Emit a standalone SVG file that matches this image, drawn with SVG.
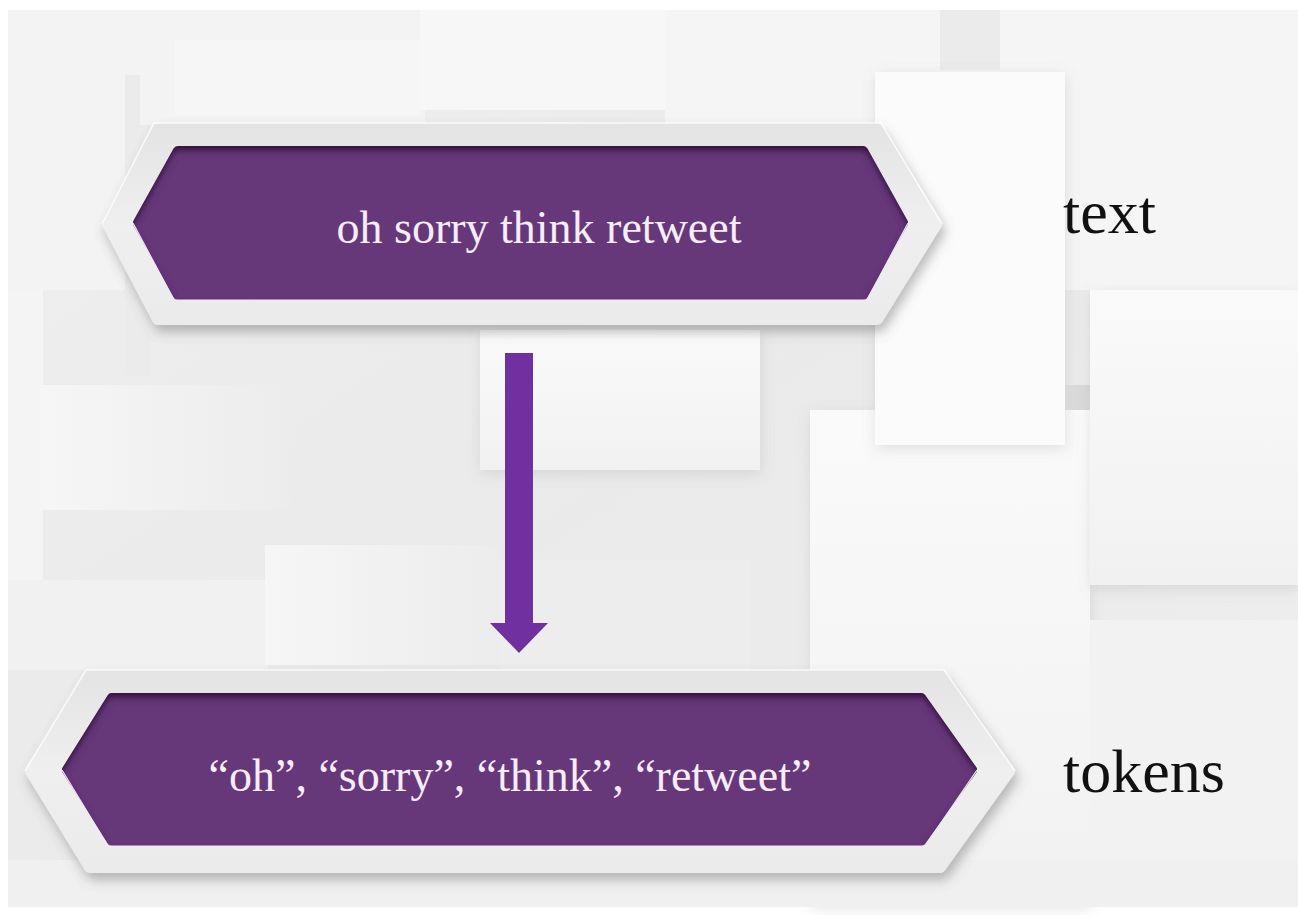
<svg xmlns="http://www.w3.org/2000/svg" width="1298" height="915" viewBox="0 0 1298 915">
  <style>
    .panel { filter: url(#panelShadow); }
    .frame { fill: url(#frameGrad); stroke: url(#frameGrad); stroke-width: 12; stroke-linejoin: round; filter: url(#frameShadow); }
    .frame-hi { fill: none; stroke: #ffffff; stroke-opacity: 0.8; stroke-width: 1.5; stroke-linejoin: round; }
    .plate { fill: #663879; stroke: #663879; stroke-width: 10; stroke-linejoin: round; filter: url(#insetShadow); }
    .plate-edge { fill: none; stroke: #f3e6f7; stroke-width: 1.2; stroke-linejoin: round; }
    .inner-text { font-family: "Liberation Serif", "Times New Roman", serif; font-size: 46px; fill: #f7ecf9; text-anchor: middle; }
    .side-label { font-family: "Liberation Serif", "Times New Roman", serif; font-size: 62px; fill: #111111; }
    .arrow { fill: #7030a0; }
  </style>
  <defs>
    <linearGradient id="bgGrad" x1="0" y1="0" x2="1" y2="1">
      <stop offset="0" stop-color="#efefef"/>
      <stop offset="0.5" stop-color="#eaeaea"/>
      <stop offset="1" stop-color="#eeeeee"/>
    </linearGradient>
    <linearGradient id="paperGrad" x1="0" y1="0" x2="0" y2="1">
      <stop offset="0" stop-color="#fafafa"/>
      <stop offset="1" stop-color="#f1f1f1"/>
    </linearGradient>
    <linearGradient id="paperSide" x1="0" y1="0" x2="1" y2="0">
      <stop offset="0" stop-color="#f6f6f6"/>
      <stop offset="1" stop-color="#ececec"/>
    </linearGradient>
    <linearGradient id="frameGrad" x1="0" y1="0" x2="0" y2="1">
      <stop offset="0" stop-color="#e4e4e4"/>
      <stop offset="0.5" stop-color="#efefef"/>
      <stop offset="1" stop-color="#ebebeb"/>
    </linearGradient>
    <filter id="panelShadow" x="-10%" y="-10%" width="130%" height="130%">
      <feDropShadow dx="1" dy="4" stdDeviation="7" flood-color="#8a8a8a" flood-opacity="0.22"/>
    </filter>
    <filter id="frameShadow" x="-5%" y="-20%" width="112%" height="150%">
      <feDropShadow dx="3" dy="7" stdDeviation="6" flood-color="#5a5a5a" flood-opacity="0.4"/>
    </filter>
    <filter id="insetShadow" x="-5%" y="-10%" width="110%" height="120%">
      <feOffset in="SourceAlpha" dy="5" result="off"/>
      <feGaussianBlur in="off" stdDeviation="3" result="blur"/>
      <feComposite in="SourceAlpha" in2="blur" operator="out" result="ring"/>
      <feFlood flood-color="#22062c" flood-opacity="0.85"/>
      <feComposite in2="ring" operator="in" result="shade"/>
      <feMerge>
        <feMergeNode in="SourceGraphic"/>
        <feMergeNode in="shade"/>
      </feMerge>
    </filter>
  </defs>

  <!-- backdrop: white margin, grey base and overlapping paper panels -->
  <g id="backdrop">
    <rect x="0" y="0" width="1298" height="915" fill="#ffffff"/>
    <rect x="8" y="10" width="1290" height="897" fill="url(#bgGrad)"/>
    <rect x="8" y="10" width="140" height="280" fill="#f3f3f3"/>
    <rect x="125" y="75" width="25" height="300" fill="#ebebeb"/>
    <rect x="140" y="10" width="285" height="115" fill="#f3f3f3"/>
    <rect x="175" y="40" width="245" height="75" fill="#f6f6f6"/>
    <rect x="420" y="10" width="250" height="100" fill="#f7f7f7"/>
    <rect x="665" y="10" width="633" height="280" fill="#f5f5f5"/>
    <rect x="940" y="10" width="60" height="60" fill="#ebebeb"/>
    <rect x="8" y="290" width="35" height="300" fill="#f4f4f4"/>
    <rect x="40" y="385" width="250" height="125" fill="url(#paperSide)"/>
    <rect class="panel" x="480" y="330" width="280" height="140" fill="url(#paperGrad)"/>
    <rect class="panel" x="810" y="410" width="280" height="495" fill="url(#paperGrad)"/>
    <rect class="panel" x="875" y="72" width="190" height="373" fill="#fbfbfb"/>
    <rect x="1065" y="385" width="25" height="25" fill="#d9d9d9"/>
    <rect class="panel" x="1090" y="290" width="208" height="295" fill="url(#paperGrad)"/>
    <rect x="8" y="580" width="260" height="90" fill="#f1f1f1"/>
    <rect x="265" y="545" width="235" height="120" fill="url(#paperSide)"/>
    <rect x="500" y="560" width="250" height="110" fill="#ededed"/>
    <rect x="1090" y="620" width="208" height="285" fill="#f2f2f2"/>
    <rect x="8" y="860" width="1290" height="47" fill="#f0f0f0"/>
  </g>

  <!-- upper node: raw text -->
  <g id="node-text">
    <polygon class="frame" points="108,224 158,129 877,129 936,224 877,319 158,319"/>
    <polyline class="frame-hi" points="102,224 154,123 881,123 942,224"/>
    <polygon class="plate" points="138,223 178,151 863,151 903,223 863,295 178,295"/>
    <polyline class="plate-edge" points="133,223 174,300 867,300 908,223"/>
    <text class="inner-text" x="539" y="243">oh sorry think retweet</text>
  </g>

  <!-- lower node: token list -->
  <g id="node-tokens">
    <polygon class="frame" points="31,771 90,676 940,676 1009,771 940,867 90,867"/>
    <polyline class="frame-hi" points="25,771 86,670 944,670 1015,771"/>
    <polygon class="plate" points="67,770 112,698 921,698 972,770 921,841 112,841"/>
    <polyline class="plate-edge" points="62,770 108,846 925,846 977,770"/>
    <text class="inner-text" x="510" y="791">“oh”, “sorry”, “think”, “retweet”</text>
  </g>

  <!-- connector: downward block arrow -->
  <g id="connectors">
    <path class="arrow" d="M505,353 H533 V623 H548 L519,653 L490,623 H505 Z"/>
  </g>

  <g id="label-text">
    <text class="side-label" x="1063" y="233">text</text>
  </g>
  <g id="label-tokens">
    <text class="side-label" x="1063" y="792">tokens</text>
  </g>
</svg>
